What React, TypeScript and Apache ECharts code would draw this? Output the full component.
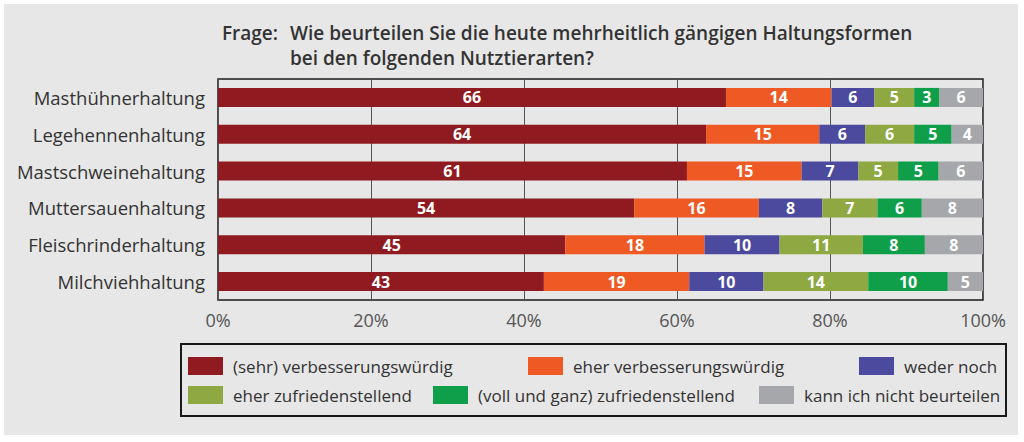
import React, { useEffect, useRef } from "react";
import * as echarts from "echarts";

const categories = [
  "Masthühnerhaltung",
  "Legehennenhaltung",
  "Mastschweinehaltung",
  "Muttersauenhaltung",
  "Fleischrinderhaltung",
  "Milchviehhaltung",
];

const seriesNames = [
  "(sehr) verbesserungswürdig",
  "eher verbesserungswürdig",
  "weder noch",
  "eher zufriedenstellend",
  "(voll und ganz) zufriedenstellend",
  "kann ich nicht beurteilen",
];

const sehrVerbesserungswuerdig = [66.4, 63.8, 61.3, 54.4, 45.4, 42.6];
const eherVerbesserungswuerdig = [13.8, 14.8, 15.0, 16.3, 18.2, 19.0];
const wederNoch = [5.6, 6.0, 7.4, 8.3, 9.8, 9.7];
const eherZufrieden = [5.2, 6.4, 5.2, 7.2, 10.9, 13.7];
const vollZufrieden = [3.3, 4.9, 5.3, 5.8, 8.1, 10.4];
const kannNicht = [5.7, 4.1, 5.8, 8.0, 7.6, 4.6];

const seriesValues = [
  sehrVerbesserungswuerdig,
  eherVerbesserungswuerdig,
  wederNoch,
  eherZufrieden,
  vollZufrieden,
  kannNicht,
];

const colors = ["#8f1a1f", "#ef5a24", "#4b4a9e", "#8ea842", "#0f9f4b", "#a6a7aa"];

const xTicks = [0, 20, 40, 60, 80, 100];

const titleLabel = "Frage:";
const titleText = "Wie beurteilen Sie die heute mehrheitlich gängigen Haltungsformen\nbei den folgenden Nutztierarten?";

const FONT = "'Open Sans', 'Noto Sans', sans-serif";

const legendPos = [
  { left: 188, top: 357 },
  { left: 528, top: 357 },
  { left: 859, top: 357 },
  { left: 188, top: 386 },
  { left: 433, top: 386 },
  { left: 759, top: 386 },
];

export default function App() {
  const ref = useRef<HTMLDivElement>(null);

  useEffect(() => {
    document.body.style.margin = "0";
    if (!ref.current) return;
    const chart = echarts.init(ref.current, undefined, { renderer: "svg" });

    const option: any = {
      animation: false,
      backgroundColor: "#ffffff",
      textStyle: { fontFamily: FONT },
      graphic: [
        {
          type: "rect",
          z: -100,
          silent: true,
          shape: { x: 4, y: 4, width: 1014, height: 431 },
          style: { fill: "#e7e7e7" },
        },
        {
          type: "rect",
          z: -50,
          silent: true,
          shape: { x: 181, y: 344, width: 825, height: 72 },
          style: { fill: "#e7e7e7", stroke: "#1a1a1a", lineWidth: 2 },
        },
      ],
      title: [
        {
          text: titleLabel,
          left: 222,
          top: 20,
          padding: 0,
          textStyle: { fontFamily: FONT, fontSize: 19, fontWeight: 600, color: "#333333", lineHeight: 25 },
        },
        {
          text: titleText,
          left: 290,
          top: 20,
          padding: 0,
          textStyle: { fontFamily: FONT, fontSize: 19, fontWeight: 600, color: "#333333", lineHeight: 25 },
        },
      ],
      legend: seriesNames.map((name, i) => ({
        data: [name],
        left: legendPos[i].left,
        top: legendPos[i].top,
        icon: "rect",
        itemWidth: 35,
        itemHeight: 18,
        itemGap: 0,
        selectedMode: false,
        padding: 0,
        textStyle: { fontFamily: FONT, fontSize: 17, color: "#333333", padding: [0, 0, 0, 5] },
      })),
      grid: {
        left: 218,
        right: 41,
        top: 79,
        bottom: 142,
        show: true,
        borderColor: "#1a1a1a",
        borderWidth: 1.5,
        backgroundColor: "transparent",
      },
      xAxis: {
        type: "value",
        min: 0,
        max: 100,
        interval: 20,
        axisLine: { show: false },
        axisTick: { show: false },
        splitLine: { show: true, lineStyle: { color: "#555555", width: 1 } },
        axisLabel: {
          fontFamily: FONT,
          fontSize: 18,
          color: "#555555",
          margin: 11,
          formatter: (v: number) => (xTicks.includes(v) ? `${v}%` : ""),
        },
      },
      yAxis: {
        type: "category",
        data: categories,
        inverse: true,
        axisLine: { show: false },
        axisTick: { show: false },
        axisLabel: { fontFamily: FONT, fontSize: 18.5, color: "#333333", margin: 13 },
      },
      series: seriesNames.map((name, i) => ({
        name,
        type: "bar",
        stack: "total",
        barWidth: 19,
        itemStyle: { color: colors[i] },
        label: {
          show: true,
          position: "inside",
          color: "#ffffff",
          fontFamily: FONT,
          fontWeight: "bold",
          fontSize: 16,
          formatter: (p: any) => `${Math.round(p.value)}`,
        },
        data: seriesValues[i],
      })),
    };

    chart.setOption(option);
    return () => chart.dispose();
  }, []);

  return (
    <div style={{ position: "fixed", left: 0, top: 0, width: 1024, height: 442, background: "#fff" }}>
      <div ref={ref} style={{ width: 1024, height: 442 }} />
    </div>
  );
}
